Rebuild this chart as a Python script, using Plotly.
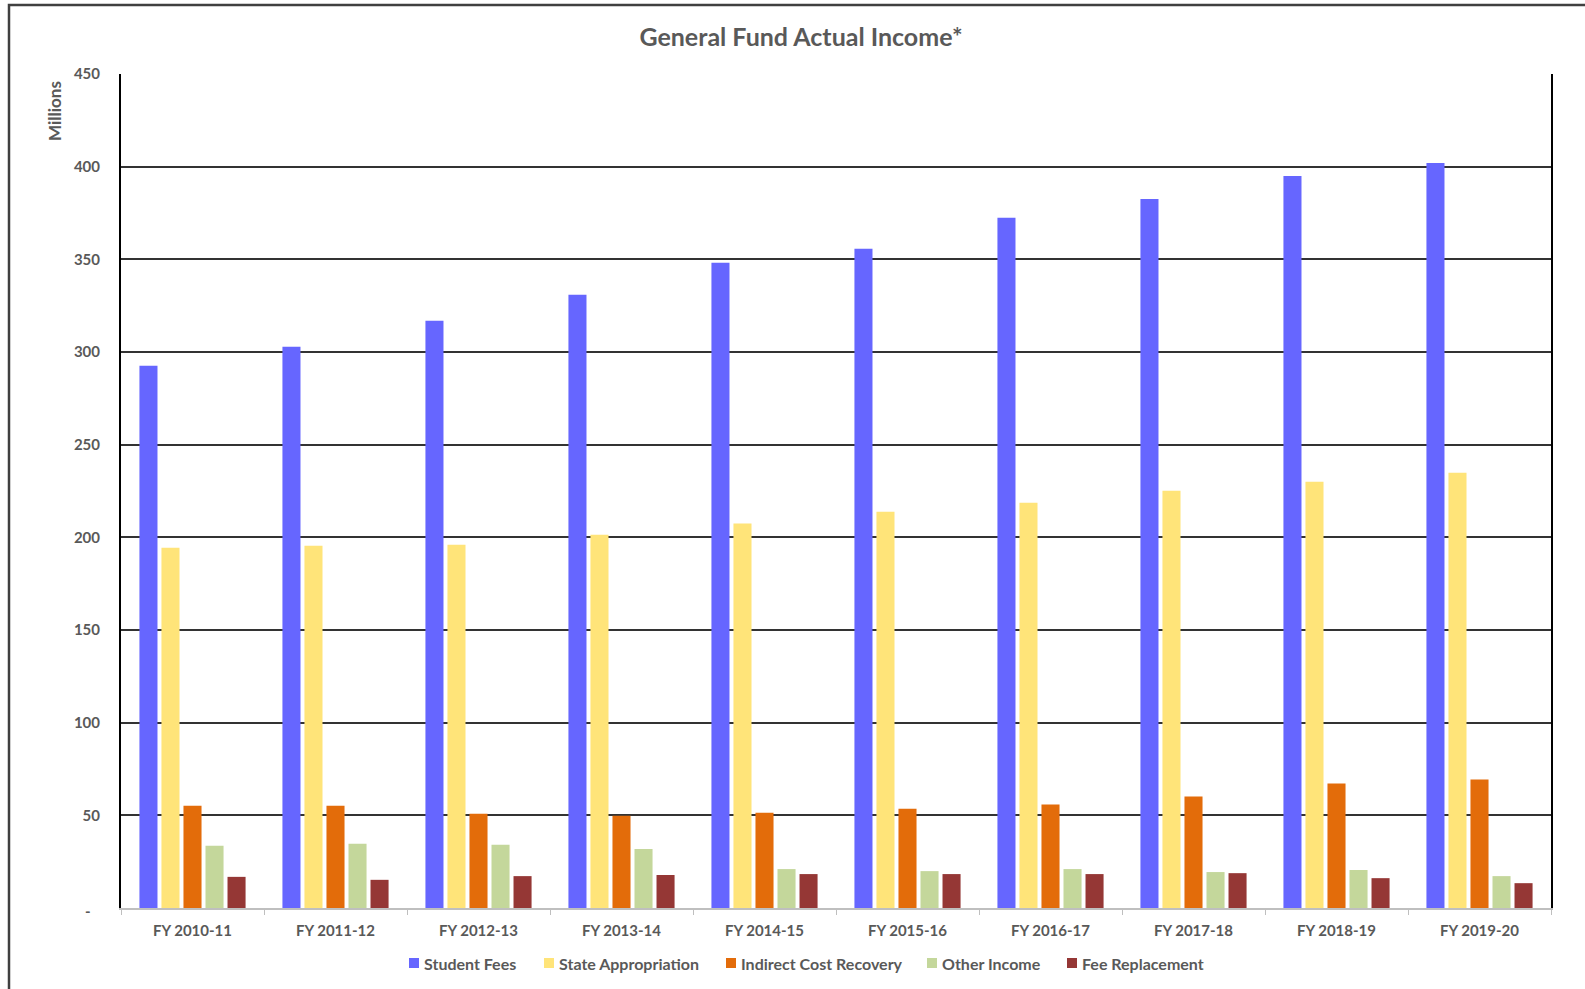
import plotly.graph_objects as go

categories = ["FY 2010-11", "FY 2011-12", "FY 2012-13", "FY 2013-14", "FY 2014-15",
              "FY 2015-16", "FY 2016-17", "FY 2017-18", "FY 2018-19", "FY 2019-20"]
student_fees = [292.6, 302.9, 316.9, 330.9, 348.2, 355.7, 372.4, 382.6, 395.0, 402.0]
state_appropriation = [194.4, 195.5, 196.0, 201.4, 207.4, 213.8, 218.7, 225.2, 230.0, 234.9]
indirect_cost_recovery = [55.2, 55.2, 50.9, 49.8, 51.4, 53.6, 55.8, 60.1, 67.2, 69.4]
other_income = [33.6, 34.7, 34.1, 31.9, 21.0, 19.9, 21.0, 19.4, 20.5, 17.2]
fee_replacement = [16.8, 15.2, 17.2, 17.8, 18.3, 18.3, 18.3, 18.8, 16.1, 13.4]

series_names = ["Student Fees", "State Appropriation", "Indirect Cost Recovery",
                "Other Income", "Fee Replacement"]
series_values = [student_fees, state_appropriation, indirect_cost_recovery,
                 other_income, fee_replacement]
series_colors = ["#6666FF", "#FFE479", "#E36C0A", "#C4D79B", "#953735"]

ytick_vals = [50, 100, 150, 200, 250, 300, 350, 400, 450]
ytick_text = ["50", "100", "150", "200", "250", "300", "350", "400", "450"]
zero_label = "-"

FONT = "Lato"
GRAY = "#595959"

W, H = 1585, 989
L, R, T, B = 121, 34, 74, 81
pw, ph = W - L - R, H - T - B

def px(x):
    return (x - L) / pw

def py(y):
    return (H - B - y) / ph

fig = go.Figure()
for name, vals, color in zip(series_names, series_values, series_colors):
    fig.add_trace(go.Bar(name=name, x=categories, y=vals,
                         marker=dict(color=color, line=dict(width=0))))

# legend drawn manually (marker square + label) so it does not push the margins
legend_marker_x = [409, 544, 726, 927, 1067]
legend_y = 963
annotations = [
    dict(text="Millions", textangle=-90, xref="paper", yref="paper",
         x=px(55), y=py(111), xanchor="center", yanchor="middle",
         showarrow=False, font=dict(family=FONT, size=17, color=GRAY, weight="bold")),
    dict(text=zero_label, xref="paper", yref="paper",
         x=px(88), y=py(911), xanchor="center", yanchor="middle",
         showarrow=False, font=dict(family=FONT, size=15, color=GRAY, weight="bold")),
]
shapes = [dict(type="path", xref="paper", yref="paper",
               path=f"M {px(1600)},{py(5)} L {px(9)},{py(5)} L {px(9)},{py(1000)}",
               line=dict(color="#404040", width=2.5), layer="above")]
for name, color, mx in zip(series_names, series_colors, legend_marker_x):
    shapes.append(dict(type="rect", xref="paper", yref="paper",
                       x0=px(mx), x1=px(mx + 10), y0=py(legend_y - 5), y1=py(legend_y + 5),
                       fillcolor=color, line=dict(width=0)))
    annotations.append(dict(text=name, xref="paper", yref="paper",
                            x=px(mx + 13), y=py(legend_y), xanchor="left", yanchor="middle",
                            showarrow=False,
                            font=dict(family=FONT, size=16, color=GRAY, weight="bold")))

fig.update_layout(
    width=W, height=H,
    margin=dict(l=L, r=R, t=T, b=B, autoexpand=False),
    paper_bgcolor="white", plot_bgcolor="white",
    barmode="group", bargap=0.23, bargroupgap=0.18,
    font=dict(family=FONT, color=GRAY, size=15, weight="bold"),
    title=dict(text="General Fund Actual Income*", x=(801) / W, xanchor="center",
               y=1 - 37 / H, yanchor="middle",
               font=dict(family=FONT, size=25, color=GRAY, weight="bold")),
    showlegend=False,
    xaxis=dict(showgrid=False, showline=True, linecolor="#BFBFBF", linewidth=2,
               ticks="outside", tickson="boundaries", ticklen=5, tickcolor="#BFBFBF",
               ticklabelstandoff=8,
               tickfont=dict(family=FONT, size=15, color=GRAY, weight="bold"),
               zeroline=False),
    yaxis=dict(range=[0, 450], tickvals=ytick_vals, ticktext=ytick_text,
               showgrid=True, gridcolor="#333333", gridwidth=2,
               showline=True, linecolor="#000000", linewidth=2, mirror=True,
               zeroline=False, ticks="", ticklabelstandoff=16,
               tickfont=dict(family=FONT, size=15, color=GRAY, weight="bold")),
    annotations=annotations,
    shapes=shapes,
)

fig.write_html("out.html")
